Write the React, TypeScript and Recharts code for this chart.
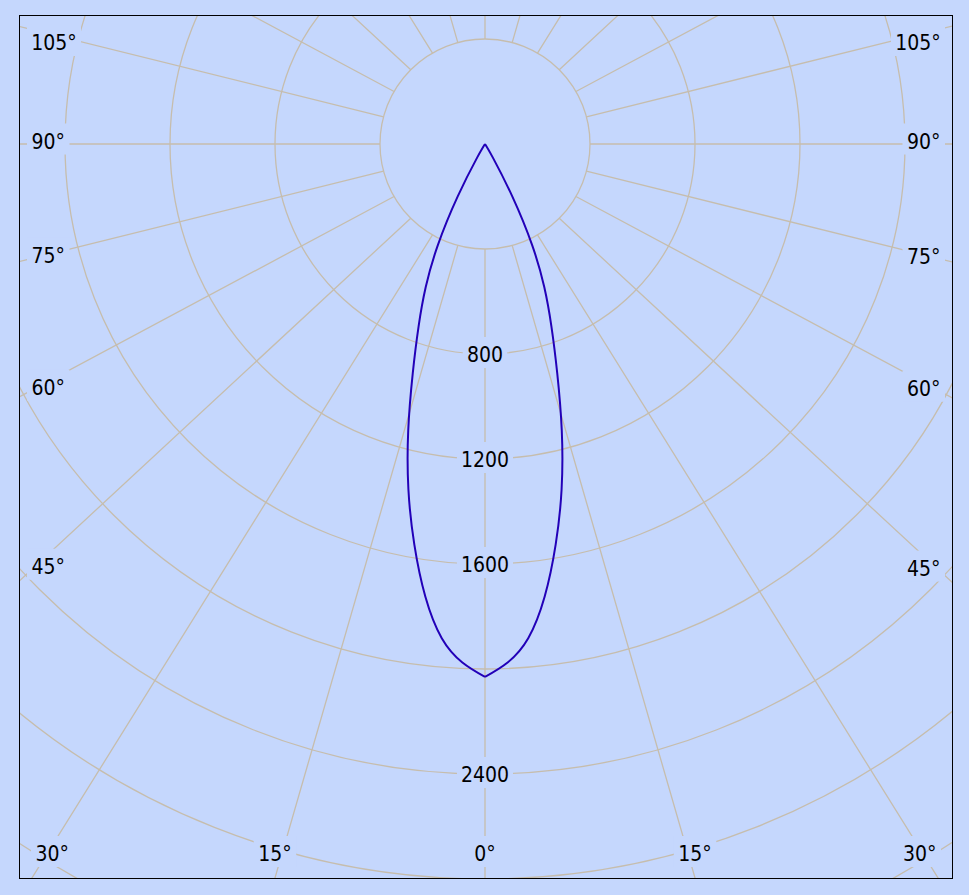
import React from 'react';
import { RadarChart, Radar, PolarGrid, PolarAngleAxis, PolarRadiusAxis, Curve } from 'recharts';

// ---------- data ----------
const GAMMA = [0, 2.5, 5, 7.5, 10, 12.5, 15, 17.5, 20, 22.5, 25, 27.5, 30, 32.5];
const INTENSITY = [2030, 1977, 1890, 1740, 1550, 1348, 1130, 915, 740, 590, 425, 225, 60, 0];
const RADIUS_TICKS = [400, 800, 1200, 1600, 2000, 2400, 2800, 3200, 3600];
const RADIUS_LABELS = [800, 1200, 1600, 2400];
const ANGLE_TICKS = [0, 15, 30, 45, 60, 75, 90, 105, 255, 270, 285, 300, 315, 330, 345];
const RADIAL_LINES = [0, 15, 30, 45, 60, 75, 90, 105, 120, 135, 150, 165, 180, 195, 210, 225, 240, 255, 270, 285, 300, 315, 330, 345];

// ---------- style / layout ----------
const BG = '#c5d7fd';
const GRID = '#c6bdad';
const CURVE = '#2200b8';
const FONT = '"DejaVu Sans Condensed", "Liberation Sans", sans-serif';
const FS = 21;
const W = 932;
const H = 862;
const CX = 465;
const CY = 128;
const R_MIN = 400;
const R_MAX = 3600;
const INNER_R = 105;
const OUTER_R = 945;
const STRETCH = 1.07;

const skew = (g: number) => {
  const r = (g * Math.PI) / 180;
  let d = (Math.atan2(STRETCH * Math.sin(r), Math.cos(r)) * 180) / Math.PI;
  if (d < 0) d += 360;
  return d;
};

// radial grid lines: pairs of (inner circle point, far point)
const gridRows: any[] = [];
RADIAL_LINES.forEach((g) => {
  gridRows.push({ kind: 'grid', gamma: g, grid: R_MIN }, { kind: 'grid', gamma: skew(g), grid: R_MAX });
});

// luminous intensity curve (symmetric C-plane pair), starting and ending at the centre
const curveRows: any[] = [];
for (let i = GAMMA.length - 1; i >= 0; i--) curveRows.push({ kind: 'curve', side: 'a', gamma: GAMMA[i], cd: INTENSITY[i] });
for (let i = 0; i < GAMMA.length; i++) curveRows.push({ kind: 'curve', side: 'b', gamma: i === 0 ? 0 : 360 - GAMMA[i], cd: INTENSITY[i] });

const DATA = [...gridRows, ...curveRows];

// geometry helpers (same mapping as the chart's axes)
const rpx = (v: number) => INNER_R + ((v - R_MIN) * (OUTER_R - INNER_R)) / (R_MAX - R_MIN);
const toXY = (g: number, r: number) => {
  const a = ((270 - g) * Math.PI) / 180;
  return { x: CX + r * Math.cos(a), y: CY - r * Math.sin(a) };
};

const textWidth = (s: string) => {
  const digits = s.replace('°', '').length;
  return digits * 11.5 + (s.includes('°') ? 9.5 : 0);
};

const Label = ({ cx, cy, text }: { cx: number; cy: number; text: string }) => {
  const w = textWidth(text);
  return (
    <g>
      <rect x={cx - w / 2 - 5} y={cy - 18} width={w + 10} height={31} fill={BG} />
      <text x={cx} y={cy + FS * 0.35} textAnchor="middle" fontFamily={FONT} fontSize={FS} fill="#000">
        {text}
      </text>
    </g>
  );
};

const renderAngleTick = (props: any) => {
  const g = props?.payload?.value;
  if (g === undefined || g === null) return <g />;
  const text = `${g <= 180 ? g : 360 - g}°`;
  const w = textWidth(text);
  const p0 = toXY(g, rpx(R_MIN));
  const p1 = toXY(skew(g), rpx(R_MAX));
  const dx = p1.x - p0.x;
  const dy = p1.y - p0.y;
  const eps = 1e-6;
  let tSide = Infinity;
  let tBottom = Infinity;
  if (dx < -eps) tSide = (0 - p0.x) / dx;
  if (dx > eps) tSide = (W - 1 - p0.x) / dx;
  if (dy > eps) tBottom = (H - p0.y) / dy;
  let cx: number;
  let cy: number;
  if (tBottom <= tSide) {
    const xb = p0.x + tBottom * dx;
    cx = Math.min(Math.max(xb, 16 + w / 2), 916 - w / 2);
    cy = 838;
  } else {
    const left = dx < 0;
    const xl = left ? 12 : 920;
    const yl = p0.y + ((xl - p0.x) * dy) / dx - 2.5;
    cy = Math.min(Math.max(yl, 27), 838);
    cx = left ? xl + w / 2 : xl - w / 2;
  }
  return <Label cx={cx} cy={cy} text={text} />;
};

const renderRadiusTick = (props: any) => {
  const v = props?.payload?.value;
  if (!RADIUS_LABELS.includes(v)) return <g />;
  return <Label cx={props.x} cy={props.y + 1} text={String(v)} />;
};

const validPts = (props: any, kind: string) =>
  (props?.points || []).filter(
    (p: any) => p && p.payload && p.payload.kind === kind && Number.isFinite(p.x) && Number.isFinite(p.y),
  );

const GridShape = (props: any) => {
  const pts = validPts(props, 'grid');
  let d = '';
  for (let i = 0; i + 1 < pts.length; i += 2) d += `M${pts[i].x},${pts[i].y}L${pts[i + 1].x},${pts[i + 1].y}`;
  return <path d={d} stroke={GRID} strokeWidth={1.3} fill="none" />;
};

const CurveShape = (props: any) => {
  const pts = validPts(props, 'curve');
  const sideA = pts.filter((p: any) => p.payload.side === 'a').map((p: any) => ({ x: p.x, y: p.y }));
  const sideB = pts.filter((p: any) => p.payload.side === 'b').map((p: any) => ({ x: p.x, y: p.y }));
  return (
    <g>
      <Curve type="natural" points={sideA} stroke={CURVE} strokeWidth={2} fill="none" />
      <Curve type="natural" points={sideB} stroke={CURVE} strokeWidth={2} fill="none" />
    </g>
  );
};

export default function App() {
  return (
    <div style={{ position: 'absolute', left: 0, top: 0, width: 969, height: 895, background: BG, overflow: 'hidden' }}>
      <div
        style={{
          position: 'absolute',
          left: 19,
          top: 15,
          width: 934,
          height: 864,
          border: '1px solid #000',
          boxSizing: 'border-box',
          overflow: 'hidden',
        }}
      >
        <RadarChart
          width={W}
          height={H}
          data={DATA}
          cx={CX}
          cy={CY}
          innerRadius={INNER_R}
          outerRadius={OUTER_R}
          startAngle={270}
          endAngle={-90}
          margin={{ top: 0, right: 0, bottom: 0, left: 0 }}
        >
          <PolarGrid gridType="circle" radialLines={false} stroke={GRID} strokeWidth={1.3} />
          <Radar dataKey="grid" shape={GridShape} isAnimationActive={false} dot={false} legendType="none" />
          <Radar dataKey="cd" shape={CurveShape} isAnimationActive={false} dot={false} legendType="none" />
          <PolarAngleAxis
            dataKey="gamma"
            type="number"
            domain={[0, 360]}
            ticks={ANGLE_TICKS}
            tick={renderAngleTick}
            axisLine={false}
            tickLine={false}
          />
          <PolarRadiusAxis
            angle={-90}
            type="number"
            domain={[R_MIN, R_MAX]}
            allowDataOverflow
            ticks={RADIUS_TICKS}
            tick={renderRadiusTick}
            axisLine={false}
            tickLine={false}
          />
        </RadarChart>
      </div>
    </div>
  );
}
